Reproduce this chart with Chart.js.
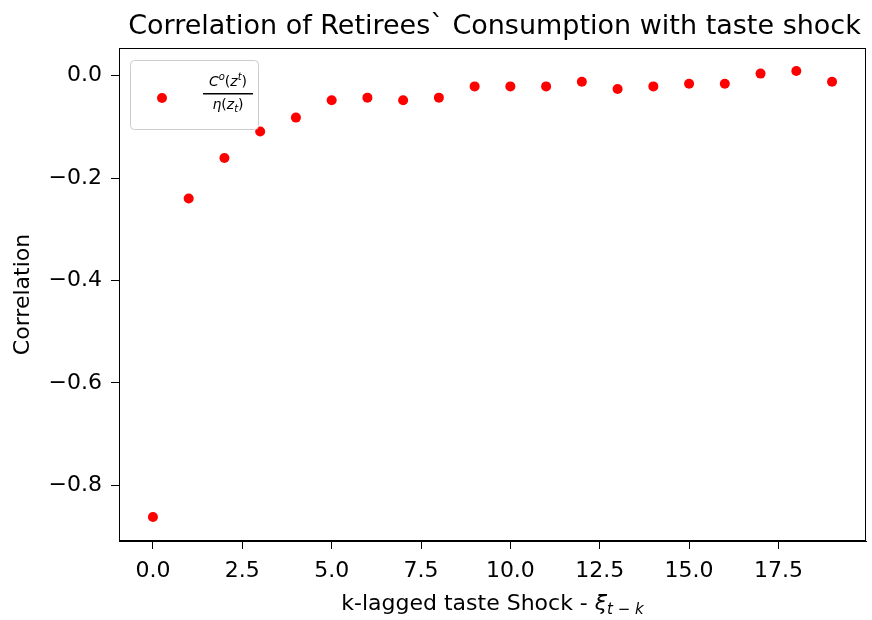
<!DOCTYPE html>
<html>
<head>
<meta charset="utf-8">
<script src="https://cdn.jsdelivr.net/npm/chart.js@4.4.0/dist/chart.umd.min.js"></script>
<style>
  html, body { margin: 0; padding: 0; background: #fff; }
</style>
</head>
<body>
<canvas id="grafico" width="872" height="620"></canvas>
<script>
const lags = [0, 1, 2, 3, 4, 5, 6, 7, 8, 9, 10, 11, 12, 13, 14, 15, 16, 17, 18, 19];
const correlacion = [-0.862, -0.240, -0.161, -0.109, -0.082, -0.048, -0.043, -0.048, -0.043, -0.021,
  -0.021, -0.021, -0.012, -0.026, -0.021, -0.016, -0.016, 0.004, 0.009, -0.012];
const xTicks = [0, 2.5, 5, 7.5, 10, 12.5, 15, 17.5];
const yTicks = [0, -0.2, -0.4, -0.6, -0.8];

const titulo = "Correlation of Retirees` Consumption with taste shock";
const FUENTE = "'DejaVu Sans', sans-serif";
const TAM = 22;

// marco, titulo, etiqueta x con subindice y leyenda
const extras = {
  id: "extras",
  afterDraw(chart) {
    const { ctx, chartArea: a } = chart;
    ctx.save();
    ctx.strokeStyle = "#000";
    ctx.lineWidth = 1;
    ctx.strokeRect(a.left + 0.5, a.top + 0.5, a.right - a.left - 1, a.bottom - a.top - 1);

    ctx.fillStyle = "#000";
    ctx.textAlign = "center";
    ctx.textBaseline = "middle";
    ctx.font = "27px " + FUENTE;
    ctx.fillText(titulo, (a.left + a.right) / 2 + 2, 27);

    // x axis label
    const base = "k-lagged taste Shock - ";
    ctx.font = TAM + "px " + FUENTE;
    const w1 = ctx.measureText(base).width;
    ctx.font = "italic " + TAM + "px " + FUENTE;
    const w2 = ctx.measureText("ξ").width;
    ctx.font = "italic 15px " + FUENTE;
    const w3 = ctx.measureText("t − k").width;
    let x = (a.left + a.right) / 2 - (w1 + w2 + w3) / 2;
    ctx.textAlign = "left";
    ctx.textBaseline = "alphabetic";
    ctx.font = TAM + "px " + FUENTE;
    ctx.fillText(base, x, 610);
    x += w1;
    ctx.font = "italic " + TAM + "px " + FUENTE;
    ctx.fillText("ξ", x, 610);
    x += w2;
    ctx.font = "italic 15px " + FUENTE;
    ctx.fillText("t − k", x, 614);

    // leyenda
    const lx = 130.5, ly = 60.5, lw = 128, lh = 69, r = 4;
    ctx.beginPath();
    ctx.moveTo(lx + r, ly);
    ctx.arcTo(lx + lw, ly, lx + lw, ly + lh, r);
    ctx.arcTo(lx + lw, ly + lh, lx, ly + lh, r);
    ctx.arcTo(lx, ly + lh, lx, ly, r);
    ctx.arcTo(lx, ly, lx + lw, ly, r);
    ctx.closePath();
    ctx.fillStyle = "rgba(255,255,255,0.8)";
    ctx.fill();
    ctx.strokeStyle = "#cccccc";
    ctx.stroke();

    ctx.fillStyle = "red";
    ctx.beginPath();
    ctx.arc(162, 98, 5, 0, Math.PI * 2);
    ctx.fill();

    ctx.fillStyle = "#000";
    ctx.textAlign = "left";
    ctx.textBaseline = "alphabetic";
    const cx = 228;
    const g = 14, p = 10;
    // numerador C^o(z^t)
    ctx.font = "italic " + g + "px " + FUENTE;
    const nC = ctx.measureText("C").width;
    ctx.font = "italic " + p + "px " + FUENTE;
    const nO = ctx.measureText("o").width;
    ctx.font = g + "px " + FUENTE;
    const nP = ctx.measureText("(").width;
    ctx.font = "italic " + g + "px " + FUENTE;
    const nZ = ctx.measureText("z").width;
    ctx.font = "italic " + p + "px " + FUENTE;
    const nT = ctx.measureText("t").width;
    let nx = cx - (nC + nO + nP * 2 + nZ + nT) / 2;
    const ny = 86;
    ctx.font = "italic " + g + "px " + FUENTE; ctx.fillText("C", nx, ny); nx += nC;
    ctx.font = "italic " + p + "px " + FUENTE; ctx.fillText("o", nx, ny - 6); nx += nO;
    ctx.font = g + "px " + FUENTE; ctx.fillText("(", nx, ny); nx += nP;
    ctx.font = "italic " + g + "px " + FUENTE; ctx.fillText("z", nx, ny); nx += nZ;
    ctx.font = "italic " + p + "px " + FUENTE; ctx.fillText("t", nx, ny - 6); nx += nT;
    ctx.font = g + "px " + FUENTE; ctx.fillText(")", nx, ny);

    ctx.fillRect(cx - 25, 93, 50, 1.5);

    // denominador eta(z_t)
    ctx.font = "italic " + g + "px " + FUENTE;
    const dE = ctx.measureText("η").width;
    const dZ = ctx.measureText("z").width;
    ctx.font = g + "px " + FUENTE;
    const dP = ctx.measureText("(").width;
    ctx.font = "italic " + p + "px " + FUENTE;
    const dT = ctx.measureText("t").width;
    let dx = cx - (dE + dZ + dP * 2 + dT) / 2;
    const dy = 109;
    ctx.font = "italic " + g + "px " + FUENTE; ctx.fillText("η", dx, dy); dx += dE;
    ctx.font = g + "px " + FUENTE; ctx.fillText("(", dx, dy); dx += dP;
    ctx.font = "italic " + g + "px " + FUENTE; ctx.fillText("z", dx, dy); dx += dZ;
    ctx.font = "italic " + p + "px " + FUENTE; ctx.fillText("t", dx, dy + 3); dx += dT;
    ctx.font = g + "px " + FUENTE; ctx.fillText(")", dx, dy);
    ctx.restore();
  }
};

new Chart(document.getElementById("grafico").getContext("2d"), {
  type: "scatter",
  data: {
    datasets: [{
      label: "C0(zt)/eta(zt)",
      data: lags.map((k, i) => ({ x: k, y: correlacion[i] })),
      backgroundColor: "red",
      borderColor: "red",
      pointRadius: 5,
      pointBorderWidth: 0
    }]
  },
  options: {
    responsive: false,
    animation: false,
    devicePixelRatio: 1,
    layout: { padding: { left: 0, right: 6, top: 48, bottom: 0 } },
    plugins: { legend: { display: false }, tooltip: { enabled: false }, title: { display: false } },
    scales: {
      x: {
        type: "linear",
        min: -0.95,
        max: 19.95,
        afterBuildTicks: s => { s.ticks = xTicks.map(v => ({ value: v })); },
        afterFit: s => { s.height = 79; },
        grid: { drawOnChartArea: false, drawTicks: true, tickLength: 8, color: "#000" },
        border: { display: true, color: "#000" },
        ticks: {
          color: "#000",
          font: { family: FUENTE, size: TAM },
          padding: 9,
          maxRotation: 0,
          callback: v => v.toFixed(1)
        }
      },
      y: {
        type: "linear",
        min: -0.909,
        max: 0.054,
        afterBuildTicks: s => { s.ticks = yTicks.map(v => ({ value: v })); },
        afterFit: s => { s.width = 119; },
        grid: { drawOnChartArea: false, drawTicks: true, tickLength: 8, color: "#000" },
        border: { display: true, color: "#000" },
        title: { display: true, text: "Correlation", color: "#000", font: { family: FUENTE, size: TAM }, padding: { top: 10, bottom: 0 } },
        ticks: {
          color: "#000",
          font: { family: FUENTE, size: TAM },
          padding: 9,
          callback: v => (v < 0 ? "\u2212" : "") + Math.abs(v).toFixed(1)
        }
      }
    }
  },
  plugins: [extras]
});
</script>
</body>
</html>
